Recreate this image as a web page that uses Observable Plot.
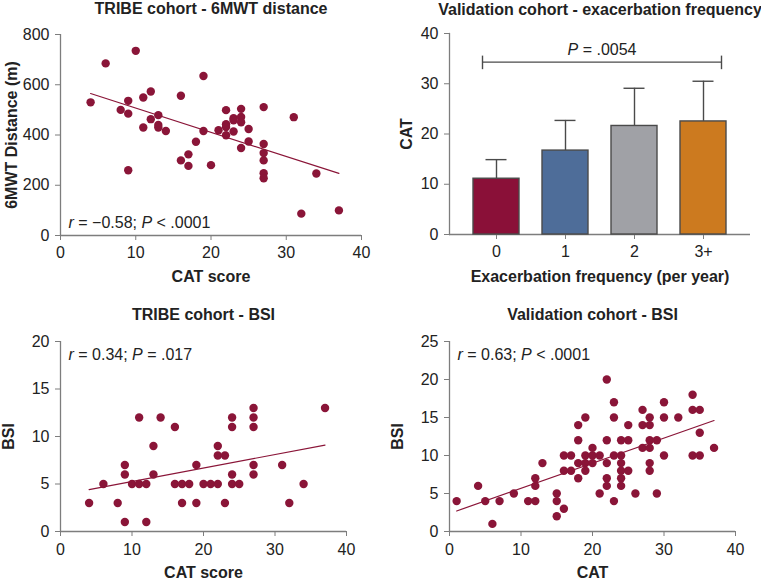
<!DOCTYPE html>
<html>
<head>
<meta charset="utf-8">
<script src="https://cdn.jsdelivr.net/npm/d3@7"></script>
<script src="https://cdn.jsdelivr.net/npm/@observablehq/plot@0.6"></script>
<style>
  body { margin: 0; background: #fff; }
  #root { position: relative; width: 761px; height: 581px; overflow: hidden; background: #fff; }
  .panel { position: absolute; }
</style>
</head>
<body>
<div id="root"></div>
<script>
// ---------- Data ----------
const dotColor = "#8a1538";
const axisColor = "#7d7d7d";
const textColor = "#222";
const fontFamily = "'Liberation Sans', Arial, Helvetica, sans-serif";

// Panel A: TRIBE cohort - 6MWT distance
const tribeTitleA = "TRIBE cohort - 6MWT distance";
const tribeCatA = [4, 6, 8, 9, 9, 9, 10, 11, 11, 12, 12, 13, 13, 13, 14, 16, 16, 17, 17, 18, 19, 19, 20, 21, 22, 22, 22, 22, 23, 23, 23, 24, 24, 24, 24, 25, 25, 27, 27, 27, 27, 27, 27, 31, 32, 34, 37];
const tribe6mwt = [530, 685, 500, 536, 485, 260, 735, 549, 430, 573, 463, 479, 440, 430, 416, 556, 299, 323, 277, 373, 635, 416, 280, 419, 499, 443, 432, 399, 467, 459, 414, 504, 472, 451, 348, 424, 374, 511, 364, 328, 299, 248, 228, 471, 87, 247, 100];
const tribeFitACat = [4, 37];
const tribeFitA6mwt = [565, 247];
const statA = "r = \u22120.58; P < .0001";
const xTicks = [0, 10, 20, 30, 40];
const yTicksA = [0, 200, 400, 600, 800];

// Panel B: Validation cohort - exacerbation frequency
const exacTitle = "Validation cohort - exacerbation frequency";
const exacCategories = ["0", "1", "2", "3+"];
const exacMeanCat = [11.1, 16.7, 21.6, 22.5];
const exacSdCat = [3.8, 6.0, 7.5, 8.0];
const exacColors = ["#8a1038", "#4e6d99", "#a0a1a6", "#cc7a1f"];
const exacPLabel = "P = .0054";
const exacPLabelY = 36.8;
const exacBracketY = 34.3;
const yTicksB = [0, 10, 20, 30, 40];

// Panel C: TRIBE cohort - BSI
const tribeTitleC = "TRIBE cohort - BSI";
const tribeCatC = [4, 6, 8, 9, 9, 9, 10, 11, 11, 12, 12, 13, 13, 14, 16, 16, 17, 17, 18, 19, 19, 20, 21, 22, 22, 22, 23, 23, 24, 24, 24, 24, 25, 27, 27, 27, 27, 27, 31, 32, 34, 37];
const tribeBsiC = [3, 5, 3, 7, 6, 1, 5, 5, 12, 5, 1, 9, 6, 12, 11, 5, 5, 3, 5, 7, 3, 5, 5, 5, 9, 8, 8, 3, 12, 11, 6, 5, 5, 13, 12, 11, 7, 6, 7, 3, 5, 13];
const tribeFitCCat = [4, 37];
const tribeFitCBsi = [4.4, 9.1];
const statC = "r = 0.34; P = .017";
const yTicksC = [0, 5, 10, 15, 20];

// Panel D: Validation cohort - BSI
const valTitleD = "Validation cohort - BSI";
const valCatD = [1, 4, 5, 6, 7, 9, 11, 12, 12, 12, 13, 15, 15, 15, 16, 16, 16, 17, 17, 18, 18, 18, 18, 19, 19, 19, 19, 20, 20, 20, 21, 21, 22, 22, 22, 22, 22, 23, 23, 23, 23, 24, 24, 24, 24, 24, 24, 25, 25, 25, 26, 27, 27, 27, 28, 28, 28, 28, 28, 28, 29, 29, 30, 30, 30, 32, 34, 34, 34, 35, 35, 35, 37];
const valBsiD = [4, 6, 4, 1, 4, 5, 4, 4, 6, 7, 9, 5, 4, 2, 3, 10, 8, 10, 8, 14, 12, 9, 7, 15, 10, 9, 8, 11, 10, 9, 10, 5, 20, 12, 9, 7, 6, 17, 15, 10, 4, 12, 10, 9, 8, 7, 6, 14, 12, 8, 5, 16, 14, 11, 15, 14, 12, 11, 9, 8, 12, 5, 17, 15, 10, 15, 18, 16, 10, 16, 13, 10, 11];
const valFitDCat = [1, 37];
const valFitDBsi = [2.7, 14.6];
const statD = "r = 0.63; P < .0001";
const yTicksD = [0, 5, 10, 15, 20, 25];

// ---------- Helpers ----------
const FS = 16;

function italicizeStats(svg) {
  svg.querySelectorAll("text").forEach(t => {
    const s = t.textContent;
    if (!/^(r = |P = )/.test(s)) return;
    while (t.firstChild) t.removeChild(t.firstChild);
    for (const p of s.split(/(\br\b|\bP\b)/)) {
      if (!p) continue;
      const ts = document.createElementNS("http://www.w3.org/2000/svg", "tspan");
      ts.textContent = p;
      if (p === "r" || p === "P") ts.setAttribute("font-style", "italic");
      t.appendChild(ts);
    }
  });
}

function place(node, left, top) {
  const d = document.createElement("div");
  d.className = "panel";
  d.style.left = left + "px";
  d.style.top = top + "px";
  d.appendChild(node);
  document.getElementById("root").appendChild(d);
  italicizeStats(node.tagName.toLowerCase() === "svg" ? node : node.querySelector("svg"));
}

const baseStyle = {fontFamily, fontSize: FS + "px", color: textColor, background: "transparent", overflow: "visible"};

function axisMarks(xOpts, yTicks, tickPadX) {
  return [
    Plot.axisX({...xOpts, tickSize: 5, tickPadding: tickPadX, stroke: axisColor, fill: textColor, label: null, fontSize: FS}),
    Plot.axisY({ticks: yTicks, tickSize: 5, tickPadding: 6, stroke: axisColor, fill: textColor, label: null, fontSize: FS})
  ];
}

function labelMarks(title, xLabel, yLabel, titleDy, xLabelDy, yLabelDx) {
  const common = {fontWeight: "bold", fontSize: FS, fill: textColor, lineAnchor: "middle", textAnchor: "middle"};
  return [
    Plot.text([title], {...common, frameAnchor: "top", dy: titleDy}),
    Plot.text([xLabel], {...common, frameAnchor: "bottom", dy: xLabelDy}),
    Plot.text([yLabel], {...common, frameAnchor: "left", dx: yLabelDx, rotate: -90})
  ];
}

function scatter({xs, ys, fitX, fitY, yDomain, yTicks, title, xLabel, yLabel, stat, statAnchor, statDy,
                  width, height, margins, titleDy, xLabelDy, yLabelDx, tickPadX}) {
  const pts = xs.map((x, i) => ({x, y: ys[i]}));
  const fit = fitX.map((x, i) => ({x, y: fitY[i]}));
  return Plot.plot({
    width, height,
    marginLeft: margins[0], marginRight: margins[1], marginTop: margins[2], marginBottom: margins[3],
    style: baseStyle,
    x: {domain: [0, 40]},
    y: {domain: yDomain},
    marks: [
      Plot.ruleX([0], {stroke: axisColor, strokeWidth: 1.3}),
      Plot.ruleY([yDomain[0]], {stroke: axisColor, strokeWidth: 1.3}),
      ...axisMarks({ticks: xTicks}, yTicks, tickPadX),
      Plot.dot(pts, {x: "x", y: "y", r: 4.2, fill: dotColor, stroke: "none"}),
      Plot.line(fit, {x: "x", y: "y", stroke: dotColor, strokeWidth: 1.2}),
      Plot.text([stat], {frameAnchor: statAnchor, dx: 8, dy: statDy, textAnchor: "start", lineAnchor: "middle", fontSize: FS, fill: textColor}),
      ...labelMarks(title, xLabel, yLabel, titleDy, xLabelDy, yLabelDx)
    ]
  });
}

// ---------- Panel A ----------
place(scatter({
  xs: tribeCatA, ys: tribe6mwt, fitX: tribeFitACat, fitY: tribeFitA6mwt,
  yDomain: [0, 800], yTicks: yTicksA,
  title: tribeTitleA, xLabel: "CAT score", yLabel: "6MWT Distance (m)",
  stat: statA, statAnchor: "bottom-left", statDy: -13,
  width: 380, height: 290, margins: [60, 19, 34, 55],
  titleDy: -25.5, xLabelDy: 41, yLabelDx: -49, tickPadX: 6
}), 0, 0);

// ---------- Panel B ----------
(function () {
  const bars = exacCategories.map((c, i) => ({
    cat: c, mean: exacMeanCat[i], top: exacMeanCat[i] + exacSdCat[i], color: exacColors[i]
  }));
  const bracket = [{a: exacCategories[0], b: exacCategories[exacCategories.length - 1], y: exacBracketY}];
  const edge = "#4a4a4a";
  const chart = Plot.plot({
    width: 381, height: 290,
    marginLeft: 69, marginRight: 11, marginTop: 33, marginBottom: 56,
    style: baseStyle,
    x: {domain: exacCategories, padding: 0.34},
    y: {domain: [0, 40]},
    color: {type: "identity"},
    marks: [
      Plot.frame({anchor: "left", stroke: axisColor, strokeWidth: 1.3}),
      Plot.ruleY([0], {stroke: axisColor, strokeWidth: 1.3}),
      ...axisMarks({}, yTicksB, 6),
      Plot.ruleX(bars, {x: "cat", y1: "mean", y2: "top", stroke: edge, strokeWidth: 1.4}),
      Plot.tickY(bars, {x: "cat", y: "top", insetLeft: 12.5, insetRight: 12.5, stroke: edge, strokeWidth: 1.4}),
      Plot.barY(bars, {x: "cat", y: "mean", fill: "color", stroke: edge, strokeWidth: 1.4}),
      Plot.ruleY(bracket, {x1: "a", x2: "b", y: "y", insetLeft: 9, insetRight: 5, stroke: edge, strokeWidth: 1.4}),
      Plot.ruleX(bracket, {x: "a", y1: d => d.y - 1.5, y2: d => d.y + 1.2, dx: -14, stroke: edge, strokeWidth: 1.4}),
      Plot.ruleX(bracket, {x: "b", y1: d => d.y - 1.5, y2: d => d.y + 1.2, dx: 18, stroke: edge, strokeWidth: 1.4}),
      Plot.text([{label: exacPLabel, y: exacPLabelY}], {text: "label", y: "y", dx: 2, lineAnchor: "middle", fontSize: FS, fill: textColor}),
      ...labelMarks(exacTitle, "Exacerbation frequency (per year)", "CAT", -24, 42.4, -43)
    ]
  });
  place(chart, 380, 0);
})();

// ---------- Panel C ----------
place(scatter({
  xs: tribeCatC, ys: tribeBsiC, fitX: tribeFitCCat, fitY: tribeFitCBsi,
  yDomain: [0, 20], yTicks: yTicksC,
  title: tribeTitleC, xLabel: "CAT score", yLabel: "BSI",
  stat: statC, statAnchor: "top-left", statDy: 13,
  width: 380, height: 291, margins: [60, 34, 51, 50],
  titleDy: -26.3, xLabelDy: 41.7, yLabelDx: -52, tickPadX: 7
}), 0, 290);

// ---------- Panel D ----------
place(scatter({
  xs: valCatD, ys: valBsiD, fitX: valFitDCat, fitY: valFitDBsi,
  yDomain: [0, 25], yTicks: yTicksD,
  title: valTitleD, xLabel: "CAT", yLabel: "BSI",
  stat: statD, statAnchor: "top-left", statDy: 13,
  width: 381, height: 291, margins: [69, 26, 51, 50],
  titleDy: -26.3, xLabelDy: 41.7, yLabelDx: -51.5, tickPadX: 7
}), 380, 290);
</script>
</body>
</html>
